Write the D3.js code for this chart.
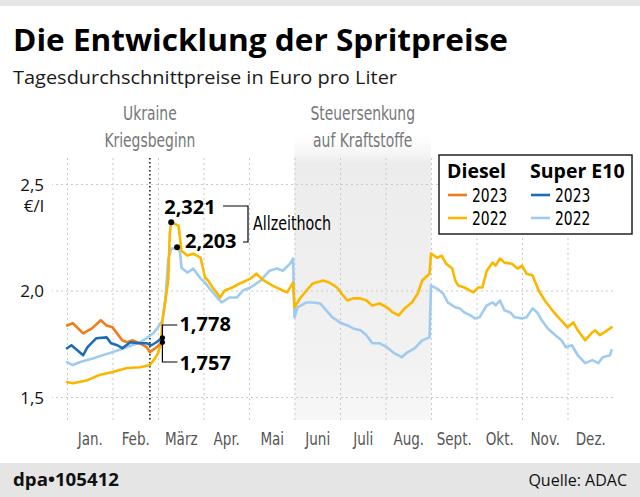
<!DOCTYPE html>
<html><head><meta charset="utf-8">
<script src="https://cdn.jsdelivr.net/npm/d3@7"></script>
<style>body{margin:0;background:#fff}svg{display:block}</style>
</head><body><svg id="c" width="640" height="497"></svg>
<script>
// ---------- data ----------
const months = ["Jan.","Feb.","März","Apr.","Mai","Juni","Juli","Aug.","Sept.","Okt.","Nov.","Dez."];
const monthStartDays = [0,31,59,90,120,151,181,212,243,273,304,334,365];
const yTicks = [1.5, 2.0, 2.5];

const diesel2022Days = [0,4,14,22,31,40,48,54,57,59,61,62,64,66,67,68,73,75,79,83,88,91,93,96,101,104,109,114,121,125,130,136,143,146,150,151,155,159,163,170,174,179,182,186,190,195,199,203,208,213,217,221,225,230,234,237,242,243,247,250,253,257,259,261,265,271,274,277,280,284,286,289,292,297,301,304,307,311,315,319,324,328,331,334,338,341,346,351,353,356,361,364];
const diesel2022 = [1.570,1.565,1.579,1.603,1.617,1.636,1.640,1.650,1.680,1.706,1.752,1.860,1.953,2.047,2.266,2.321,2.304,2.187,2.164,2.173,2.154,2.061,2.047,2.014,1.967,2.000,2.014,2.033,2.056,2.079,2.047,2.023,2.000,1.991,2.037,1.921,1.967,2.000,2.033,2.047,2.037,2.014,1.986,1.953,1.963,1.963,1.953,1.930,1.939,1.921,1.897,1.883,1.916,1.944,1.986,2.047,2.079,2.173,2.154,2.164,2.126,2.103,2.047,2.023,2.014,1.991,2.014,2.014,2.093,2.131,2.117,2.150,2.131,2.126,2.103,2.117,2.079,2.070,2.000,1.953,1.907,1.874,1.850,1.827,1.850,1.813,1.766,1.804,1.813,1.790,1.813,1.827];

const e10_2022Days = [0,4,9,18,29,40,48,52,56,59,62,64,66,68,70,72,74,75,79,83,88,91,94,99,102,107,112,116,121,128,134,139,143,148,150,151,153,159,163,168,172,176,181,186,190,195,199,203,208,213,217,223,227,232,237,242,243,247,251,254,259,262,265,269,272,275,280,284,286,289,292,296,299,304,307,311,314,317,321,326,330,333,337,341,346,351,355,358,363,364];
const e10_2022 = [1.664,1.650,1.664,1.682,1.706,1.734,1.757,1.776,1.799,1.827,1.860,1.953,2.150,2.196,2.198,2.203,2.180,2.107,2.084,2.103,2.056,2.037,2.009,1.967,1.944,1.967,1.967,2.000,2.014,2.047,2.093,2.103,2.093,2.126,2.150,1.874,1.921,1.944,1.944,1.939,1.907,1.874,1.850,1.836,1.822,1.813,1.790,1.752,1.752,1.734,1.710,1.687,1.710,1.729,1.766,1.780,2.023,2.009,1.986,1.944,1.921,1.916,1.897,1.883,1.869,1.874,1.930,1.944,1.930,1.953,1.907,1.897,1.874,1.869,1.874,1.916,1.897,1.860,1.822,1.790,1.766,1.734,1.743,1.696,1.659,1.673,1.659,1.687,1.696,1.720];

const diesel2023Days = [0,4,11,17,23,27,31,37,40,43,48,52,54,58,62];
const diesel2023 = [1.836,1.846,1.799,1.822,1.860,1.836,1.827,1.766,1.757,1.766,1.752,1.734,1.710,1.734,1.757];

const e10_2023Days = [0,3,7,11,14,20,27,30,34,37,42,47,52,55,58,62];
const e10_2023 = [1.729,1.743,1.720,1.696,1.734,1.776,1.780,1.752,1.743,1.729,1.757,1.752,1.752,1.743,1.757,1.778];

const ukraineDay = 54;          // 24. Februar
const taxCutDays = [151, 243];  // 1. Juni – 31. August

// ---------- setup ----------
const svg = d3.select("#c");
const W = 640, H = 497;
const plotL = 67, plotR = 613, gridTop = 158, gridBottom = 420;
const narrow = "'Liberation Sans Narrow','DejaVu Sans Condensed',Roboto,sans-serif";
const sans = "'Open Sans','Noto Sans',sans-serif";
const de = d3.formatLocale({decimal: ",", thousands: ".", grouping: [3], currency: ["", "€"]});
const fmt1 = de.format(".1f"), fmt3 = de.format(".3f");

// horizontal condensing factor for the narrow (condensed) font
const probe = svg.append("text").attr("font-family", narrow).attr("font-size", 19).text("Kriegsbeginn");
const cf = Math.min(1, 91 / probe.node().getComputedTextLength());
probe.remove();
function condense(sel) {
  sel.each(function () {
    const w = this.getComputedTextLength();
    d3.select(this).attr("textLength", w * cf).attr("lengthAdjust", "spacingAndGlyphs");
  });
  return sel;
}

const x = d3.scaleLinear()
  .domain(monthStartDays)
  .range(monthStartDays.map((d, i) => plotL + i * (plotR - plotL) / 12));
const y = d3.scaleLinear().domain([1.5, 2.5]).range([397, 184]);

const col = {d23: "#ee7d1c", d22: "#fbb700", e23: "#1d6db5", e22: "#9ecbef"};

// backgrounds
svg.append("rect").attr("width", W).attr("height", H).attr("fill", "#fff");
svg.append("rect").attr("width", W).attr("height", 6).attr("fill", "#e5e5e5");
svg.append("rect").attr("y", 463).attr("width", W).attr("height", H - 463).attr("fill", "#e5e5e5");

// shaded band
const defs = svg.append("defs");
const g1 = defs.append("linearGradient").attr("id", "band").attr("x1", 0).attr("x2", 0).attr("y1", 0).attr("y2", 1);
[[0, "#ffffff", 0], [0.12, "#ececec", 1], [0.8, "#f2f2f2", 1], [1, "#f7f7f7", 1]].forEach(s =>
  g1.append("stop").attr("offset", s[0]).attr("stop-color", s[1]).attr("stop-opacity", s[2]));
svg.append("rect")
  .attr("x", x(taxCutDays[0])).attr("y", 128)
  .attr("width", x(taxCutDays[1]) - x(taxCutDays[0])).attr("height", gridBottom - 128)
  .attr("fill", "url(#band)");

// y grid + labels
const yAx = svg.append("g").attr("transform", `translate(${plotR},0)`)
  .call(d3.axisLeft(y).tickValues(yTicks).tickFormat(fmt1).tickSize(plotR - 52).tickPadding(8));
yAx.select(".domain").remove();
yAx.selectAll("line").attr("stroke", "#c9c9c9").attr("stroke-dasharray", "2,3");
yAx.selectAll("text").attr("font-family", sans).attr("font-size", 17).attr("fill", "#111").attr("dy", "0.36em");
svg.append("text").attr("x", 44).attr("y", 212).attr("text-anchor", "end")
  .attr("font-family", sans).attr("font-size", 17).attr("fill", "#111").text("€/l");

// x grid
const xGrid = svg.append("g").attr("transform", `translate(0,${gridTop})`)
  .call(d3.axisBottom(x).tickValues(monthStartDays.slice(0, 12)).tickSize(gridBottom - gridTop).tickFormat(""));
xGrid.select(".domain").remove();
xGrid.selectAll("line").attr("stroke", "#c9c9c9").attr("stroke-dasharray", "2,3");

// month labels
const midDays = months.map((m, i) => (monthStartDays[i] + monthStartDays[i + 1]) / 2);
const xAx = svg.append("g").attr("transform", `translate(0,${gridBottom})`)
  .call(d3.axisBottom(x).tickValues(midDays).tickFormat((d, i) => months[i]).tickSize(0).tickPadding(12));
xAx.select(".domain").remove();
condense(xAx.selectAll("text").attr("font-family", narrow).attr("font-size", 18.5).attr("fill", "#555"));

// Ukraine line
svg.append("line").attr("x1", x(ukraineDay)).attr("x2", x(ukraineDay))
  .attr("y1", gridTop).attr("y2", gridBottom)
  .attr("stroke", "#111").attr("stroke-width", 1.5).attr("stroke-dasharray", "1.5,2.5");

// event texts
function label2(cx, lines) {
  lines.forEach((t, i) => condense(svg.append("text").attr("x", cx).attr("y", 120 + i * 27)
    .attr("text-anchor", "middle").attr("font-family", narrow).attr("font-size", 19)
    .attr("fill", "#777").text(t)));
}
label2(x(ukraineDay), ["Ukraine", "Kriegsbeginn"]);
label2((x(taxCutDays[0]) + x(taxCutDays[1])) / 2, ["Steuersenkung", "auf Kraftstoffe"]);

// lines
const line = d3.line().x(d => x(d[0])).y(d => y(d[1]));
const zip = (a, b) => a.map((d, i) => [d, b[i]]);
[[e10_2022Days, e10_2022, col.e22], [diesel2022Days, diesel2022, col.d22],
 [diesel2023Days, diesel2023, col.d23], [e10_2023Days, e10_2023, col.e23]].forEach(s => {
  svg.append("path").datum(zip(s[0], s[1])).attr("d", line)
    .attr("fill", "none").attr("stroke", s[2]).attr("stroke-width", 2.6)
    .attr("stroke-linejoin", "round").attr("stroke-linecap", "round");
});

// peak annotations
const dPeakI = diesel2022.indexOf(d3.max(diesel2022));
const ePeakI = e10_2022.indexOf(d3.max(e10_2022));
const pD = [x(diesel2022Days[dPeakI]), y(diesel2022[dPeakI])];
const pE = [x(e10_2022Days[ePeakI]), y(e10_2022[ePeakI])];
svg.append("circle").attr("cx", pD[0]).attr("cy", pD[1]).attr("r", 3).attr("fill", "#000");
svg.append("circle").attr("cx", pE[0]).attr("cy", pE[1]).attr("r", 3).attr("fill", "#000");
const bold = (t, px, py) => svg.append("text").attr("x", px).attr("y", py)
  .attr("font-family", sans).attr("font-weight", 700).attr("font-size", 20).attr("fill", "#000").text(t);
bold(fmt3(diesel2022[dPeakI]), pD[0] - 7, pD[1] - 8);
bold(fmt3(e10_2022[ePeakI]), pE[0] + 8, pE[1] + 1);
svg.append("path").attr("d", "M223,206H248V242H243").attr("fill", "none").attr("stroke", "#000").attr("stroke-width", 1.2);
condense(svg.append("text").attr("x", 253).attr("y", 230).attr("font-family", narrow).attr("font-size", 19.5)
  .attr("fill", "#000").text("Allzeithoch"));

// 2023 latest values
const lastD = diesel2023.length - 1, lastE = e10_2023.length - 1;
const lx = x(diesel2023Days[lastD]);
svg.append("circle").attr("cx", lx).attr("cy", y(diesel2023[lastD])).attr("r", 2.6).attr("fill", "#000");
svg.append("circle").attr("cx", x(e10_2023Days[lastE])).attr("cy", y(e10_2023[lastE])).attr("r", 2.6).attr("fill", "#000");
svg.append("path").attr("d", `M${lx + 15},325H${lx}V362H${lx + 15}`).attr("fill", "none").attr("stroke", "#000").attr("stroke-width", 1.2);
bold(fmt3(e10_2023[lastE]), lx + 17, 331);
bold(fmt3(diesel2023[lastD]), lx + 17, 370);

// legend
svg.append("rect").attr("x", 439).attr("y", 155).attr("width", 193).attr("height", 79)
  .attr("fill", "#fff").attr("stroke", "#222").attr("stroke-width", 1.5);
const legendCols = [{x: 447, title: "Diesel", c: [col.d23, col.d22]}, {x: 530, title: "Super E10", c: [col.e23, col.e22]}];
const legendYears = ["2023", "2022"];
legendCols.forEach(lc => {
  svg.append("text").attr("x", lc.x).attr("y", 178).attr("font-family", sans).attr("font-weight", 700)
    .attr("font-size", 19.5).attr("fill", "#000").text(lc.title);
  legendYears.forEach((yr, i) => {
    const yy = 195 + i * 23;
    svg.append("line").attr("x1", lc.x + 1).attr("x2", lc.x + 20).attr("y1", yy).attr("y2", yy)
      .attr("stroke", lc.c[i]).attr("stroke-width", 2.6);
    condense(svg.append("text").attr("x", lc.x + 25).attr("y", yy + 7).attr("font-family", narrow)
      .attr("font-size", 19).attr("fill", "#000").text(yr));
  });
});

// titles
svg.append("text").attr("x", 13).attr("y", 51).attr("font-family", sans).attr("font-weight", 700)
  .attr("font-size", 30).attr("fill", "#000").attr("textLength", 495).attr("lengthAdjust", "spacingAndGlyphs")
  .text("Die Entwicklung der Spritpreise");
svg.append("text").attr("x", 13).attr("y", 84).attr("font-family", sans)
  .attr("font-size", 19).attr("fill", "#1a1a1a").attr("textLength", 384).attr("lengthAdjust", "spacingAndGlyphs")
  .text("Tagesdurchschnittpreise in Euro pro Liter");

// footer
svg.append("text").attr("x", 13).attr("y", 486).attr("font-family", sans).attr("font-weight", 700)
  .attr("font-size", 18).attr("fill", "#111").attr("textLength", 106).attr("lengthAdjust", "spacingAndGlyphs")
  .text("dpa•105412");
svg.append("text").attr("x", 627).attr("y", 486).attr("text-anchor", "end").attr("font-family", sans)
  .attr("font-size", 16).attr("fill", "#111").text("Quelle: ADAC");
</script></body></html>
